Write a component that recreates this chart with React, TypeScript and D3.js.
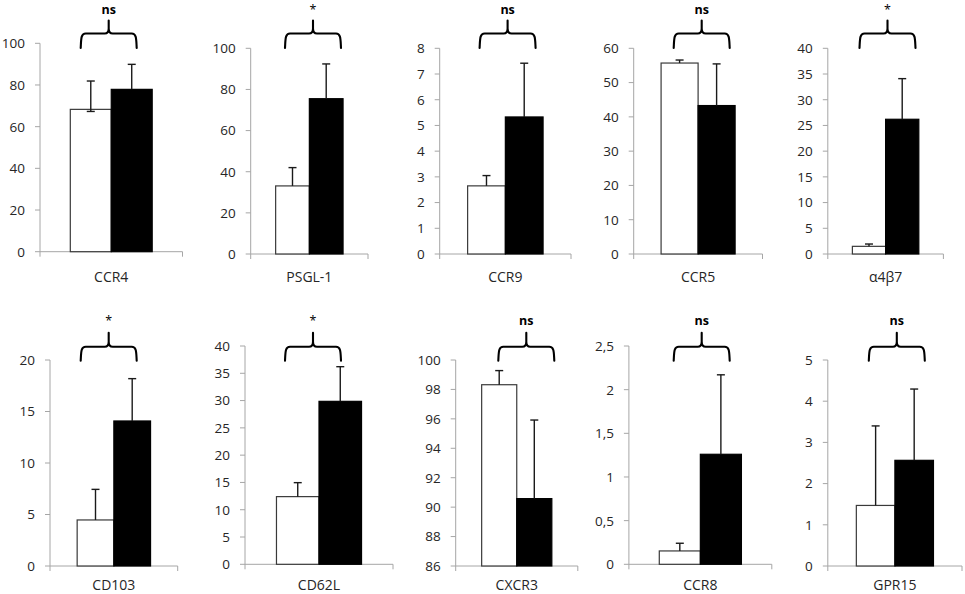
import React from "react";
import * as d3 from "d3";

const categories = ["CCR4", "PSGL-1", "CCR9", "CCR5", "α4β7", "CD103", "CD62L", "CXCR3", "CCR8", "GPR15"];
const whiteMean = [68.3, 33.1, 2.65, 55.7, 1.49, 4.47, 12.4, 98.32, 0.153, 1.47];
const whiteErr = [13.6, 8.9, 0.4, 0.88, 0.45, 2.97, 2.56, 0.96, 0.088, 1.93];
const whiteErrLow = [1.0, 0, 0, 0, 0, 0, 0, 0, 0, 0];
const blackMean = [77.9, 75.5, 5.33, 43.3, 26.2, 14.08, 29.86, 90.58, 1.26, 2.565];
const blackErr = [12.0, 16.9, 2.09, 12.15, 7.9, 4.11, 6.35, 5.34, 0.91, 1.73];
const significance = ["ns", "*", "ns", "ns", "*", "*", "*", "ns", "ns", "ns"];
const yMin = [0, 0, 0, 0, 0, 0, 0, 86, 0, 0];
const yMax = [100, 100, 8, 60, 40, 20, 40, 100, 2.5, 5];
const yStep = [20, 20, 1, 10, 5, 5, 5, 2, 0.5, 1];

// layout (pixel positions of each panel's plot area)
const layout = [
  { x0: 40, x1: 182.5, top: 43.3, bottom: 251.7, brL: 80.7, row: 0 },
  { x0: 250.7, x1: 368, top: 48.3, bottom: 254, brL: 285, row: 0 },
  { x0: 439.7, x1: 571, top: 48.3, bottom: 254, brL: 479.6, row: 0 },
  { x0: 633.7, x1: 762.5, top: 48.3, bottom: 254, brL: 673.7, row: 0 },
  { x0: 827.8, x1: 943.4, top: 48.3, bottom: 254, brL: 859.5, row: 0 },
  { x0: 50, x1: 177.7, top: 360, bottom: 566, brL: 80.7, row: 1 },
  { x0: 245, x1: 393, top: 346, bottom: 564.3, brL: 285, row: 1 },
  { x0: 455.7, x1: 577.8, top: 360, bottom: 566, brL: 498.3, row: 1 },
  { x0: 628.9, x1: 771.8, top: 346, bottom: 564.3, brL: 673.7, row: 1 },
  { x0: 827.8, x1: 962, top: 360, bottom: 566, brL: 868.8, row: 1 },
];
const rowBracket = [
  { end: 48, flat: 33.5, peak: 20.5, text: 13.6, label: 281.5 },
  { end: 360.7, flat: 346.7, peak: 332.7, text: 324.8, label: 590 },
];

const locale = d3.formatLocale({ decimal: ",", thousands: ".", grouping: [3], currency: ["", ""] });
const fmt = locale.format("~g");

const AXIS = "#a6a6a6";
const TEXT = "#262626";
const FONT = "'Open Sans', 'Noto Sans', sans-serif";

function bracketPath(l: number, w: number, b: { end: number; flat: number; peak: number }) {
  const r = l + w;
  const c = l + w / 2;
  const p = d3.path();
  p.moveTo(l, b.end);
  p.bezierCurveTo(l + 0.5, b.flat + 6, l, b.flat, l + 5, b.flat);
  p.lineTo(c - 4, b.flat);
  p.bezierCurveTo(c - 1, b.flat, c, b.flat - 2, c, b.flat - 5);
  p.lineTo(c, b.peak);
  p.moveTo(c, b.flat - 5);
  p.bezierCurveTo(c, b.flat - 2, c + 1, b.flat, c + 4, b.flat);
  p.lineTo(r - 5, b.flat);
  p.bezierCurveTo(r, b.flat, r - 0.5, b.flat + 6, r, b.end);
  return p.toString();
}

function Panel({ i }: { i: number }) {
  const L = layout[i];
  const B = rowBracket[L.row];
  const y = d3.scaleLinear().domain([yMin[i], yMax[i]]).range([L.bottom, L.top]);
  const xb = d3.scaleBand<string>().domain([categories[i]]).range([L.x0, L.x1]).paddingInner(0).paddingOuter(0.37);
  const xg = d3.scaleBand<string>().domain(["white", "black"]).range([0, xb.bandwidth()]);
  const bx = xb(categories[i])!;
  const ticks = d3.range(yMin[i], yMax[i] + yStep[i] / 2, yStep[i]);
  const groups = [
    { key: "white", mean: whiteMean[i], err: whiteErr[i], low: whiteErrLow[i], fill: "#ffffff", stroke: "#3a3a3a" },
    { key: "black", mean: blackMean[i], err: blackErr[i], low: 0, fill: "#000000", stroke: "#000000" },
  ];
  const cap = 4;
  return (
    <g>
      {/* axes */}
      <line x1={L.x0} x2={L.x0} y1={L.top} y2={L.bottom + 5} stroke={AXIS} strokeWidth={1} />
      <line x1={L.x0} x2={L.x1} y1={L.bottom} y2={L.bottom} stroke={AXIS} strokeWidth={1} />
      <line x1={L.x1} x2={L.x1} y1={L.bottom} y2={L.bottom + 5} stroke={AXIS} strokeWidth={1} />
      {ticks.map((t) => (
        <g key={t}>
          <line x1={L.x0 - 5} x2={L.x0} y1={y(t)} y2={y(t)} stroke={AXIS} strokeWidth={1} />
          <text x={L.x0 - 15} y={y(t)} dy="0.36em" textAnchor="end" fontSize={13.5} fontFamily={FONT} fill={TEXT}>
            {fmt(t)}
          </text>
        </g>
      ))}
      {/* bars */}
      {groups.map((g) => {
        const x = bx + xg(g.key)!;
        const w = xg.bandwidth();
        const cx = x + w / 2;
        const yt = y(g.mean);
        const ye = y(g.mean + g.err);
        const yl = y(g.mean - g.low);
        return (
          <g key={g.key}>
            <rect x={x} y={yt} width={w} height={y(yMin[i]) - yt} fill={g.fill} stroke={g.stroke} strokeWidth={1.2} />
            <line x1={cx} x2={cx} y1={ye} y2={g.low > 0 ? yl : yt} stroke="#1a1a1a" strokeWidth={1.4} />
            <line x1={cx - cap} x2={cx + cap} y1={ye} y2={ye} stroke="#1a1a1a" strokeWidth={1.4} />
            {g.low > 0 && <line x1={cx - cap} x2={cx + cap} y1={yl} y2={yl} stroke="#1a1a1a" strokeWidth={1.4} />}
          </g>
        );
      })}
      {/* category label */}
      <text x={bx + xb.bandwidth() / 2} y={B.label} textAnchor="middle" fontSize={14} fontFamily={FONT} fill={TEXT}>
        {categories[i]}
      </text>
      {/* bracket */}
      <path d={bracketPath(L.brL, 56, B)} fill="none" stroke="#000" strokeWidth={2.1} strokeLinecap="round" />
      <text
        x={L.brL + 28}
        y={B.text}
        textAnchor="middle"
        fontSize={12.5}
        fontWeight={significance[i] === "ns" ? 700 : 400}
        fontFamily={FONT}
        fill="#000"
      >
        {significance[i]}
      </text>
    </g>
  );
}

export default function App() {
  return (
    <svg
      width={965}
      height={594}
      viewBox="0 0 965 594"
      style={{ position: "absolute", left: 0, top: 0, background: "#fff" }}
    >
      <rect x={0} y={0} width={965} height={594} fill="#fff" />
      {categories.map((_, i) => (
        <Panel key={i} i={i} />
      ))}
    </svg>
  );
}
